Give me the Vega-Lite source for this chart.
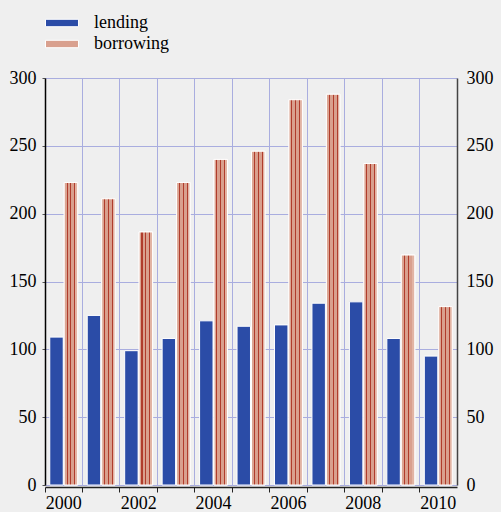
{
  "$schema": "https://vega.github.io/schema/vega-lite/v6.json",
  "width": 412,
  "height": 407,
  "autosize": "none",
  "padding": {"left": 45, "top": 78, "right": 44, "bottom": 27},
  "background": "#efefef",
  "config": {"view": {"stroke": null}, "font": "Liberation Serif"},
  "data": {"values": [
    {"year": 2000, "series": "lending", "value": 109},
    {"year": 2001, "series": "lending", "value": 125},
    {"year": 2002, "series": "lending", "value": 99},
    {"year": 2003, "series": "lending", "value": 108},
    {"year": 2004, "series": "lending", "value": 121},
    {"year": 2005, "series": "lending", "value": 117},
    {"year": 2006, "series": "lending", "value": 118},
    {"year": 2007, "series": "lending", "value": 134},
    {"year": 2008, "series": "lending", "value": 135},
    {"year": 2009, "series": "lending", "value": 108},
    {"year": 2010, "series": "lending", "value": 95},
    {"year": 2000, "series": "borrowing", "value": 223},
    {"year": 2001, "series": "borrowing", "value": 211},
    {"year": 2002, "series": "borrowing", "value": 186.5},
    {"year": 2003, "series": "borrowing", "value": 223},
    {"year": 2004, "series": "borrowing", "value": 240},
    {"year": 2005, "series": "borrowing", "value": 246},
    {"year": 2006, "series": "borrowing", "value": 284},
    {"year": 2007, "series": "borrowing", "value": 288},
    {"year": 2008, "series": "borrowing", "value": 237},
    {"year": 2009, "series": "borrowing", "value": 169.5},
    {"year": 2010, "series": "borrowing", "value": 131.5}
  ]},
  "layer": [
    {
      "mark": {"type": "bar", "stroke": "white", "strokeWidth": 1},
      "encoding": {
        "x": {
          "field": "year", "type": "ordinal",
          "scale": {"paddingInner": 0, "paddingOuter": 0},
          "axis": {
            "title": null, "bandPosition": 0,
            "labelExpr": "datum.value % 2 == 0 ? datum.label : ''",
            "grid": true, "gridColor": "#a9addf", "gridWidth": 1,
            "tickSize": 5, "tickColor": "#222", "domainColor": "#222", "domainWidth": 1.5,
            "offset": 2, "labelFontSize": 18, "labelColor": "black", "labelAngle": 0,
            "labelPadding": 2, "labelFont": "Liberation Serif"
          }
        },
        "xOffset": {
          "field": "series", "type": "nominal", "sort": ["lending", "borrowing"],
          "scale": {"domain": ["lending", "borrowing"], "paddingInner": 0.07, "paddingOuter": 0.33}
        },
        "y": {
          "field": "value", "type": "quantitative",
          "scale": {"domain": [0, 300], "nice": false},
          "axis": {
            "title": null, "orient": "left", "values": [0, 50, 100, 150, 200, 250, 300],
            "grid": true, "gridColor": "#a9addf", "gridWidth": 1,
            "domainColor": "black", "domainWidth": 1.5, "tickSize": 3, "tickColor": "#555",
            "labelFontSize": 18, "labelColor": "black", "labelPadding": 6, "labelFont": "Liberation Serif"
          }
        },
        "fill": {
          "field": "series", "type": "nominal",
          "scale": {"domain": ["lending", "borrowing"], "range": ["#2b4ca7", "#d9a08e"]},
          "legend": {
            "title": null, "orient": "none", "legendX": 8, "legendY": -64,
            "padding": 0, "rowPadding": 3,
            "symbolType": "M-2,-0.45H2V0.45H-2Z", "symbolSize": 272,
            "symbolStrokeColor": "white", "symbolStrokeWidth": 1,
            "labelFontSize": 18, "labelColor": "black", "labelFont": "Liberation Serif",
            "labelOffset": 23
          }
        }
      }
    },
    {
      "transform": [{"filter": "datum.series == 'borrowing'"}],
      "mark": {
        "type": "bar", "stroke": "white", "strokeWidth": 1,
        "fill": {"gradient": "linear", "x1": 0, "y1": 0, "x2": 1, "y2": 0, "stops": [
          {"offset": 0, "color": "#dba593"},
          {"offset": 0.17, "color": "#dba593"},
          {"offset": 0.17, "color": "#b03c2c"},
          {"offset": 0.25, "color": "#b03c2c"},
          {"offset": 0.25, "color": "#d9a08e"},
          {"offset": 0.46, "color": "#d9a08e"},
          {"offset": 0.46, "color": "#b03c2c"},
          {"offset": 0.54, "color": "#b03c2c"},
          {"offset": 0.54, "color": "#d9a08e"},
          {"offset": 0.76, "color": "#d9a08e"},
          {"offset": 0.76, "color": "#b03c2c"},
          {"offset": 0.83, "color": "#b03c2c"},
          {"offset": 0.83, "color": "#e2b4a4"},
          {"offset": 1, "color": "#e2b4a4"}
        ]}
      },
      "encoding": {
        "x": {"field": "year", "type": "ordinal"},
        "xOffset": {"field": "series", "type": "nominal", "scale": {"domain": ["lending", "borrowing"]}},
        "y": {"field": "value", "type": "quantitative", "axis": null}
      }
    },
    {
      "mark": {"type": "point", "opacity": 0},
      "encoding": {
        "y": {
          "field": "value", "type": "quantitative",
          "scale": {"domain": [0, 300], "nice": false},
          "axis": {
            "title": null, "orient": "right", "values": [0, 50, 100, 150, 200, 250, 300],
            "grid": false, "ticks": false,
            "domainColor": "#444", "domainWidth": 1.5,
            "labelFontSize": 18, "labelColor": "black", "labelPadding": 9, "labelFont": "Liberation Serif"
          }
        }
      }
    }
  ],
  "resolve": {"scale": {"y": "shared"}, "axis": {"y": "independent"}}
}
